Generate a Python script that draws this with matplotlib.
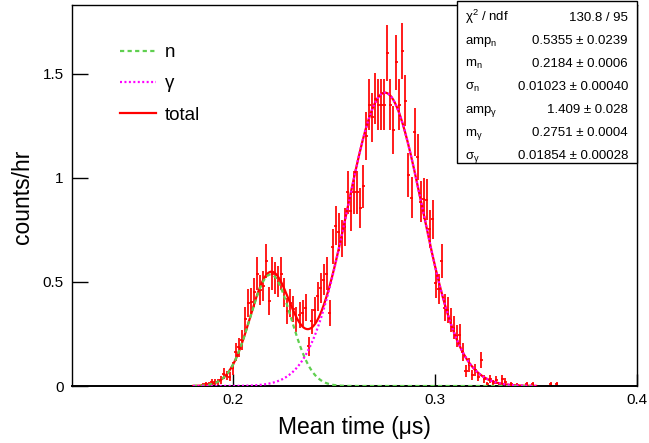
import numpy as np
import matplotlib
matplotlib.use("Agg")
import matplotlib.pyplot as plt
from matplotlib.patches import Rectangle

# ---------------- data ----------------
BIN_LOW = 0.1
BIN_WIDTH = 0.0015
FIRST_BIN = 55
live_time_hr = 90.0   # sets the Poisson error bars: err = sqrt(rate / T)

counts_per_hr = np.array([
    0, 0.005, 0.008, 0.01, 0.02, 0.02, 0.02, 0.03, 0.06, 0.05,          # 55-64
    0.045, 0.085, 0.165, 0.185, 0.22, 0.32, 0.40, 0.405, 0.45, 0.54,    # 65-74
    0.46, 0.48, 0.60, 0.41, 0.54, 0.52, 0.50, 0.54, 0.45, 0.36,         # 75-84
    0.40, 0.37, 0.32, 0.34, 0.35, 0.375, 0.19, 0.31, 0.365, 0.43,       # 85-94
    0.47, 0.51, 0.54, 0.35, 0.67, 0.77, 0.74, 0.71, 0.765, 0.93,        # 95-104
    0.84, 0.93, 0.93, 0.855, 0.96, 1.20, 1.35, 1.29, 1.38, 1.35,        # 105-114
    1.35, 1.35, 1.60, 1.35, 1.23, 1.555, 1.35, 1.61, 1.37, 1.015,       # 115-124
    0.905, 1.22, 1.10, 0.885, 0.90, 0.895, 0.755, 0.80, 0.495, 0.465,   # 125-134
    0.60, 0.375, 0.365, 0.317, 0.28, 0.24, 0.245, 0.165, 0.072, 0.10,   # 135-144
    0.053, 0.077, 0.045, 0.125, 0.032, 0.01, 0.032, 0.016, 0.029, 0.01, # 145-154
    0.032, 0.021, 0, 0.01, 0, 0.005, 0, 0, 0.008, 0,                    # 155-164
    0.008, 0, 0, 0, 0, 0, 0.008, 0, 0.008,                              # 165-173
])

# fit results (from the stats box)
fit_range = (0.18, 0.35)
amp_n, m_n, s_n = 0.5355, 0.2184, 0.01023
amp_g, m_g, s_g = 1.409, 0.2751, 0.01854

stat_labels = ["χ$^{2}$ / ndf", "amp$_{\\mathrm{n}}$", "m$_{\\mathrm{n}}$",
               "σ$_{\\mathrm{n}}$", "amp$_{\\mathrm{γ}}$", "m$_{\\mathrm{γ}}$",
               "σ$_{\\mathrm{γ}}$"]
stat_values = ["130.8 / 95", "0.5355 ± 0.0239", "0.2184 ± 0.0006",
               "0.01023 ± 0.00040", "1.409 ± 0.028", "0.2751 ± 0.0004",
               "0.01854 ± 0.00028"]

x_ticks = [0.2, 0.3, 0.4]
x_tick_labels = ["0.2", "0.3", "0.4"]
y_ticks = [0, 0.5, 1, 1.5]
y_tick_labels = ["0", "0.5", "1", "1.5"]

# ---------------- style ----------------
plt.rcParams['font.family'] = ['Liberation Sans', 'DejaVu Sans']
plt.rcParams['mathtext.fontset'] = 'custom'
plt.rcParams['mathtext.rm'] = 'Liberation Sans'
plt.rcParams['mathtext.it'] = 'Liberation Sans:italic'
plt.rcParams['mathtext.sf'] = 'Liberation Sans'

W, H = 649, 443
fig = plt.figure(figsize=(W / 100, H / 100), dpi=100)


def fx(px):
    return px / W


def fy(py):
    return 1 - py / H


ax = fig.add_axes([fx(72), fy(386), fx(637) - fx(72), fy(5) - fy(386)])
ax.set_xlim(0.12, 0.4)
ax.set_ylim(0, 1.83)

centers = BIN_LOW + BIN_WIDTH * (np.arange(FIRST_BIN, FIRST_BIN + len(counts_per_hr)) + 0.5)
mask = counts_per_hr > 0
err = np.sqrt(counts_per_hr / live_time_hr)
ax.errorbar(centers[mask], counts_per_hr[mask], yerr=err[mask], xerr=BIN_WIDTH / 2,
            fmt='none', ecolor='#ff0000', elinewidth=1.25, capsize=0, zorder=2)


def gaus(x, a, m, s):
    return a * np.exp(-0.5 * ((x - m) / s) ** 2)


xf = np.linspace(fit_range[0], fit_range[1], 600)
yn = gaus(xf, amp_n, m_n, s_n)
yg = gaus(xf, amp_g, m_g, s_g)
l_tot, = ax.plot(xf, yn + yg, color='#ff0000', lw=1.6, zorder=3, label='total')
l_n, = ax.plot(xf, yn, color='#5fcf4f', lw=1.6, ls=(0, (1.9, 1.5)), zorder=4, label='n')
l_g, = ax.plot(xf, yg, color='#ff00ff', lw=1.6, ls=(0, (0.9, 1.1)), zorder=5, label='γ')

ax.set_xticks(x_ticks)
ax.set_xticklabels(x_tick_labels)
ax.set_yticks(y_ticks)
ax.set_yticklabels(y_tick_labels)
ax.tick_params(axis='both', direction='in', labelsize=11, width=1, colors='black')
ax.tick_params(axis='y', length=11.5, pad=6)
ax.tick_params(axis='x', length=8.5, pad=5)
ax.minorticks_off()
for sp in ax.spines.values():
    sp.set_linewidth(1.0)
    sp.set_color('black')
ax.spines['bottom'].set_linewidth(1.4)

fig.text(fx(354.5), fy(434), "Mean time (μs)", ha='center', va='baseline', fontsize=16.5)
fig.text(fx(23), fy(197), "counts/hr", ha='center', va='center', rotation=90, fontsize=16.5)

leg = ax.legend(handles=[l_n, l_g, l_tot], loc='upper left',
                bbox_to_anchor=(fx(120), fy(44)), bbox_transform=fig.transFigure,
                frameon=False, fontsize=13.5, handlelength=1.9, handletextpad=0.5,
                labelspacing=0.75, borderpad=0, borderaxespad=0)

# stats box
fig.patches.append(Rectangle((fx(457), fy(163)), fx(637) - fx(457), fy(1) - fy(163),
                             transform=fig.transFigure, facecolor='white',
                             edgecolor='black', lw=1.0, zorder=10))
row_y = [17, 40, 63, 86, 109, 132, 155]
for yy, lab, val in zip(row_y, stat_labels, stat_values):
    fig.text(fx(465), fy(yy + 4), lab, ha='left', va='baseline', fontsize=9.5, zorder=11)
    fig.text(fx(628), fy(yy + 4), val, ha='right', va='baseline', fontsize=9.5, zorder=11)

fig.savefig("out.png", dpi=100)
